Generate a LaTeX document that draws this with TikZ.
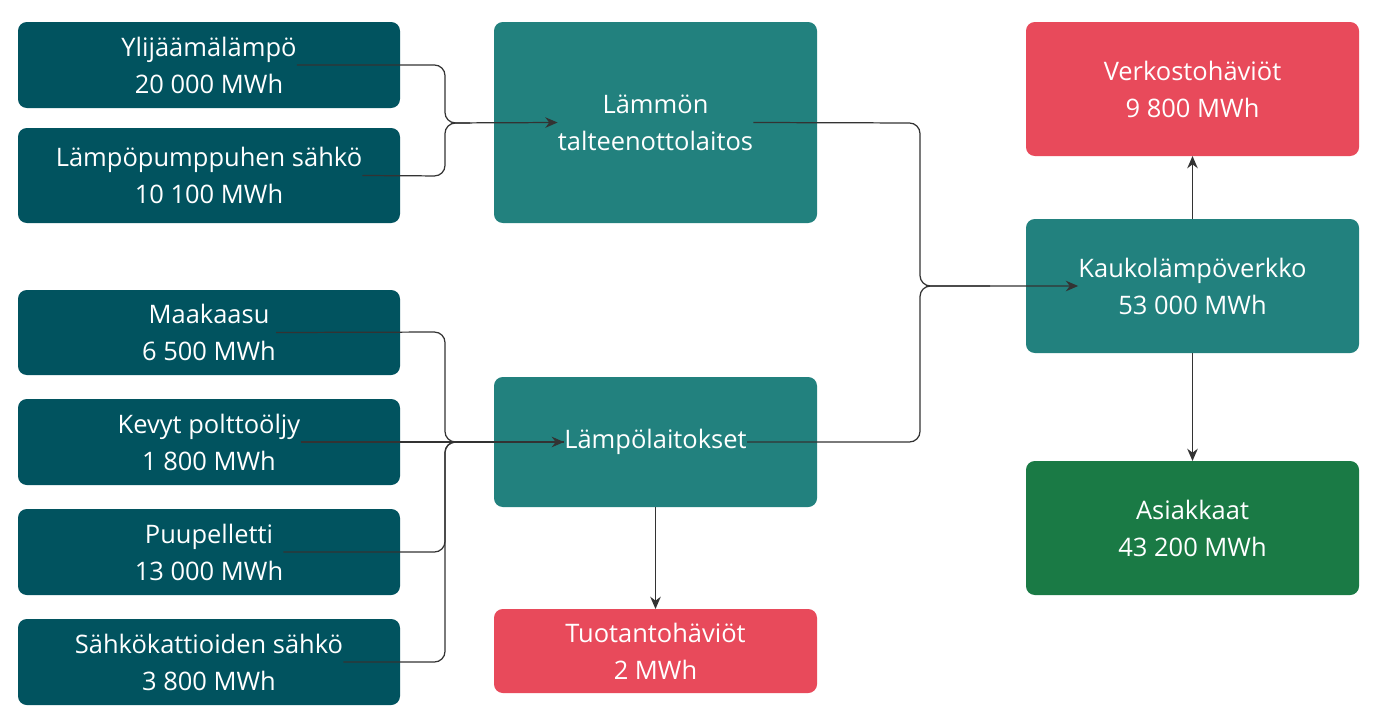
\documentclass[tikz,border=0pt]{standalone}
\usepackage{fontspec}
\setmainfont{Open Sans}
\usetikzlibrary{arrows.meta}
\definecolor{dteal}{HTML}{01535F}
\definecolor{mteal}{HTML}{22817E}
\definecolor{lred}{HTML}{E84A5B}
\definecolor{dgreen}{HTML}{1A7A45}
\definecolor{lin}{HTML}{333333}
\begin{document}
\begin{tikzpicture}[x=0.02cm,y=-0.02cm,
 box/.style={rounded corners=5pt,inner sep=0,text=white,align=center,font=\fontsize{14.5}{21}\selectfont},
 con/.style={draw=lin,line width=0.7pt,rounded corners=6pt,-{Stealth[length=7pt,width=6pt]}},
 plain/.style={draw=lin,line width=0.7pt,rounded corners=6pt}]
\useasboundingbox (0,0) rectangle (1379,724);
\newcommand{\bx}[7]{\fill[#6,rounded corners=5pt] (#2,#3) rectangle (#4,#5);
 \node[box] (#1) at ({(#2+#4)/2},{(#3+#5)/2}) {#7};
 \coordinate (#1-n) at ({(#2+#4)/2},#3); \coordinate (#1-s) at ({(#2+#4)/2},#5);}
\bx{a}{18}{22}{400}{108}{dteal}{Ylijäämälämpö\\20 000 MWh}
\bx{b}{18}{128}{400}{223}{dteal}{Lämpöpumppuhen sähkö\\10 100 MWh}
\bx{c}{18}{290}{400}{375}{dteal}{Maakaasu\\6 500 MWh}
\bx{d}{18}{399}{400}{485}{dteal}{Kevyt polttoöljy\\1 800 MWh}
\bx{e}{18}{509}{400}{595}{dteal}{Puupelletti\\13 000 MWh}
\bx{f}{18}{619}{400}{705}{dteal}{Sähkökattioiden sähkö\\3 800 MWh}
\bx{t}{494}{22}{817}{223}{mteal}{Lämmön\\talteenottolaitos}
\bx{l}{494}{377}{817}{507}{mteal}{Lämpölaitokset}
\bx{p}{494}{609}{817}{693}{lred}{Tuotantohäviöt\\2 MWh}
\bx{v}{1026}{22}{1359}{156}{lred}{Verkostohäviöt\\9 800 MWh}
\bx{k}{1026}{219}{1359}{353}{mteal}{Kaukolämpöverkko\\53 000 MWh}
\bx{s}{1026}{461}{1359}{595}{dgreen}{Asiakkaat\\43 200 MWh}
\draw[con] (a.east) -- (445,65) -- (445,123) -- (t.west);
\draw[plain] (b.east) -- (445,176) -- (445,123) -- (470,123);
\draw[con] (c.east) -- (445,332) -- (445,442) -- (l.west);
\draw[plain] (d.east) -- (l.west);
\draw[plain] (e.east) -- (445,552) -- (445,442) -- (470,442);
\draw[plain] (f.east) -- (445,662) -- (445,442) -- (470,442);
\draw[con] (t.east) -- (920,123) -- (920,286) -- (k.west);
\draw[plain] (l.east) -- (920,442) -- (920,286) -- (990,286);
\draw[con] (l-s) -- (p-n);
\draw[con] (k-n) -- (v-s);
\draw[con] (k-s) -- (s-n);
\end{tikzpicture}
\end{document}
